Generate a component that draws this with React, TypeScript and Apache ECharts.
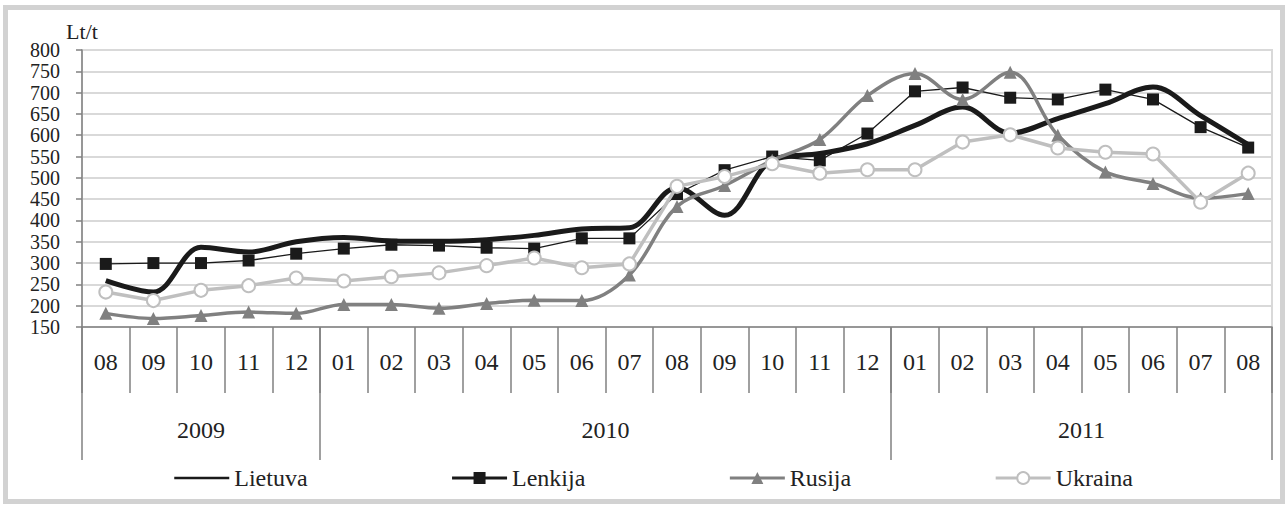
import React, { useEffect, useRef } from "react";
import * as echarts from "echarts";

const months = ["08", "09", "10", "11", "12", "01", "02", "03", "04", "05", "06", "07", "08", "09", "10", "11", "12", "01", "02", "03", "04", "05", "06", "07", "08"];
const yearLabels = ["2009", "2010", "2011"];
const yearSpans = [5, 12, 8];

const lietuva = [259, 232, 337, 326, 350, 360, 352, 351, 355, 365, 380, 383, 477, 412, 541, 557, 580, 623, 666, 605, 639, 674, 713, 646, 578];
const lenkija = [298, 300, 300, 306, 322, 334, 343, 341, 336, 334, 358, 358, 462, 518, 550, 541, 604, 703, 712, 688, 684, 707, 684, 619, 571];
const rusija = [182, 170, 177, 185, 182, 203, 203, 194, 205, 213, 212, 272, 433, 482, 541, 590, 693, 745, 684, 748, 600, 514, 487, 452, 463];
const ukraina = [232, 212, 236, 247, 265, 258, 268, 277, 294, 312, 289, 298, 480, 503, 533, 511, 519, 519, 584, 601, 570, 560, 556, 443, 511];

const FONT = "'Liberation Serif', 'Times New Roman', serif";
const TEXT = "#222222";
const AXIS = "#808080";

export default function App() {
  const ref = useRef<HTMLDivElement>(null);

  useEffect(() => {
    const chart = echarts.init(ref.current!, null, { renderer: "svg" });

    const yearBounds: number[] = [0];
    yearSpans.forEach((s) => yearBounds.push(yearBounds[yearBounds.length - 1] + s));
    const yearCenters = yearSpans.map((s, i) => yearBounds[i] + s / 2);

    const option: any = {
      animation: false,
      backgroundColor: "#ffffff",
      textStyle: { fontFamily: FONT, color: TEXT },
      graphic: [
        {
          type: "rect",
          shape: { x: 5.5, y: 7.5, width: 1277, height: 494 },
          style: { fill: "none", stroke: "#d2d2d2", lineWidth: 5 },
          z: -10,
          silent: true,
        },
      ],
      grid: {
        left: 82,
        right: 15,
        top: 50,
        bottom: 179,
        show: true,
        borderColor: "#d9d9d9",
        borderWidth: 2,
        containLabel: false,
      },
      legend: {
        top: 461,
        left: 168,
        itemGap: 143,
        itemWidth: 55,
        itemHeight: 15,
        textStyle: { fontFamily: FONT, fontSize: 24, color: TEXT },
        data: [
          { name: "Lietuva", lineStyle: { width: 2.5 }, itemStyle: { opacity: 0, borderWidth: 0 } },
          { name: "Lenkija", lineStyle: { width: 3 } },
          { name: "Rusija", lineStyle: { width: 3 } },
          { name: "Ukraina", lineStyle: { width: 3 } },
        ],
      },
      xAxis: [
        {
          type: "category",
          data: months,
          boundaryGap: true,
          position: "bottom",
          axisLine: { show: true, lineStyle: { color: AXIS, width: 1.5 } },
          axisTick: { show: true, interval: 0, length: 66, lineStyle: { color: AXIS, width: 1.5 } },
          axisLabel: { interval: 0, margin: 23, fontSize: 24, fontFamily: FONT, color: TEXT },
          splitLine: { show: false },
        },
        {
          type: "value",
          min: 0,
          max: yearBounds[yearBounds.length - 1],
          position: "bottom",
          axisLine: { show: false },
          splitLine: { show: false },
          axisTick: {
            show: true,
            customValues: yearBounds,
            length: 133,
            lineStyle: { color: AXIS, width: 1.5 },
          },
          axisLabel: {
            customValues: yearCenters,
            margin: 91,
            fontSize: 24,
            fontFamily: FONT,
            color: TEXT,
            formatter: (v: number) => {
              const i = yearCenters.indexOf(v);
              return i >= 0 ? yearLabels[i] : "";
            },
          },
        },
      ],
      yAxis: {
        type: "value",
        min: 150,
        max: 800,
        interval: 50,
        name: "Lt/t",
        nameLocation: "end",
        nameGap: 8,
        nameTextStyle: { fontFamily: FONT, fontSize: 22, color: TEXT },
        axisLine: { show: true, lineStyle: { color: AXIS, width: 1.5 } },
        axisTick: { show: true, length: 6, lineStyle: { color: AXIS, width: 1.5 } },
        axisLabel: {
          margin: 22,
          fontSize: 20,
          lineHeight: 20,
          fontFamily: FONT,
          color: TEXT,
          showMinLabel: true,
          showMaxLabel: true,
        },
        splitLine: { show: true, lineStyle: { color: "#d9d9d9", width: 2 } },
      },
      series: [
        {
          name: "Lietuva",
          type: "line",
          data: lietuva,
          smooth: 0.35,
          symbol: "none",
          lineStyle: { color: "#1a1a1a", width: 5 },
          itemStyle: { color: "#1a1a1a" },
          z: 2,
        },
        {
          name: "Lenkija",
          type: "line",
          data: lenkija,
          symbol: "rect",
          symbolSize: 12,
          lineStyle: { color: "#1a1a1a", width: 1.3 },
          itemStyle: { color: "#1a1a1a" },
          z: 3,
        },
        {
          name: "Rusija",
          type: "line",
          data: rusija,
          smooth: 0.35,
          symbol: "triangle",
          symbolSize: 13,
          lineStyle: { color: "#808080", width: 3.5 },
          itemStyle: { color: "#808080" },
          z: 4,
        },
        {
          name: "Ukraina",
          type: "line",
          data: ukraina,
          symbol: "circle",
          symbolSize: 13,
          lineStyle: { color: "#bfbfbf", width: 3.5 },
          itemStyle: { color: "#ffffff", borderColor: "#bfbfbf", borderWidth: 2 },
          z: 5,
        },
      ],
    };

    chart.setOption(option);
    return () => chart.dispose();
  }, []);

  return (
    <div
      ref={ref}
      style={{ position: "fixed", left: 0, top: 0, width: 1287, height: 506, background: "#ffffff" }}
    />
  );
}
